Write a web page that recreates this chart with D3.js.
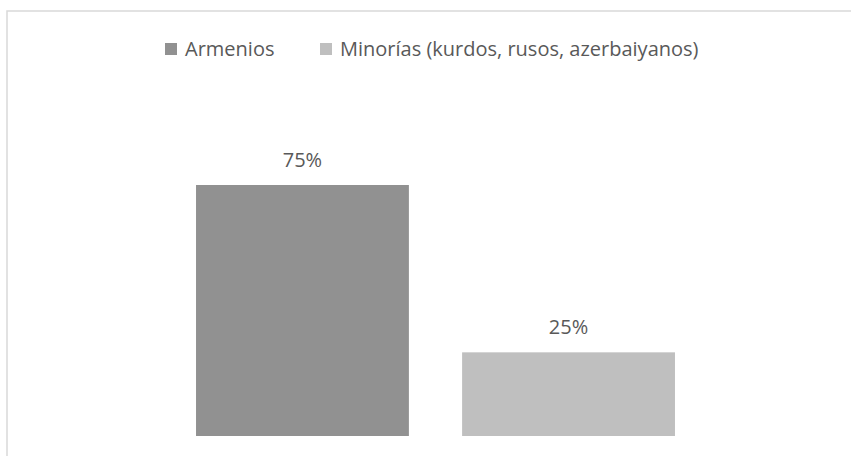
<!DOCTYPE html>
<html>
<head>
<meta charset="utf-8">
<script src="https://cdn.jsdelivr.net/npm/d3@7"></script>
<style>
html,body{margin:0;padding:0;background:#fff;}
svg{display:block;}
text{font-family:"Open Sans",sans-serif;fill:#595959;}
</style>
</head>
<body>
<svg id="chart" width="851" height="456"></svg>
<script>
const categories = ["Armenios", "Minorías (kurdos, rusos, azerbaiyanos)"];
const values = [75, 25];
const valueLabels = ["75%", "25%"];
const colors = ["#919191", "#bfbfbf"];

const W = 851, H = 456;
const svg = d3.select("#chart");

// outer chart border (cropped at right/bottom)
svg.append("rect")
  .attr("x", 7).attr("y", 11)
  .attr("width", W + 10).attr("height", H + 10)
  .attr("fill", "#fff")
  .attr("stroke", "#d9d9d9").attr("stroke-width", 1.5);

const x = d3.scaleBand()
  .domain(categories)
  .range([129.5, 741.5])
  .paddingInner(0.2)
  .paddingOuter(0.25);

const y = d3.scaleLinear().domain([0, 75]).range([436, 185]);

svg.selectAll("rect.bar")
  .data(categories)
  .join("rect")
  .attr("class", "bar")
  .attr("x", d => x(d))
  .attr("width", x.bandwidth())
  .attr("y", (d, i) => y(values[i]))
  .attr("height", (d, i) => y(0) - y(values[i]))
  .attr("fill", (d, i) => colors[i]);

svg.selectAll("text.lbl")
  .data(categories)
  .join("text")
  .attr("class", "lbl")
  .attr("x", d => x(d) + x.bandwidth() / 2)
  .attr("y", (d, i) => y(values[i]) - 18.5)
  .attr("text-anchor", "middle")
  .attr("font-size", 20)
  .text((d, i) => valueLabels[i]);

// legend
const legendX = [165, 320];
const leg = svg.selectAll("g.leg")
  .data(categories)
  .join("g")
  .attr("class", "leg")
  .attr("transform", (d, i) => `translate(${legendX[i]},43)`);
leg.append("rect")
  .attr("width", 12).attr("height", 12)
  .attr("fill", (d, i) => colors[i]);
leg.append("text")
  .attr("x", 20).attr("y", 13)
  .attr("font-size", 20)
  .text(d => d);
</script>
</body>
</html>
